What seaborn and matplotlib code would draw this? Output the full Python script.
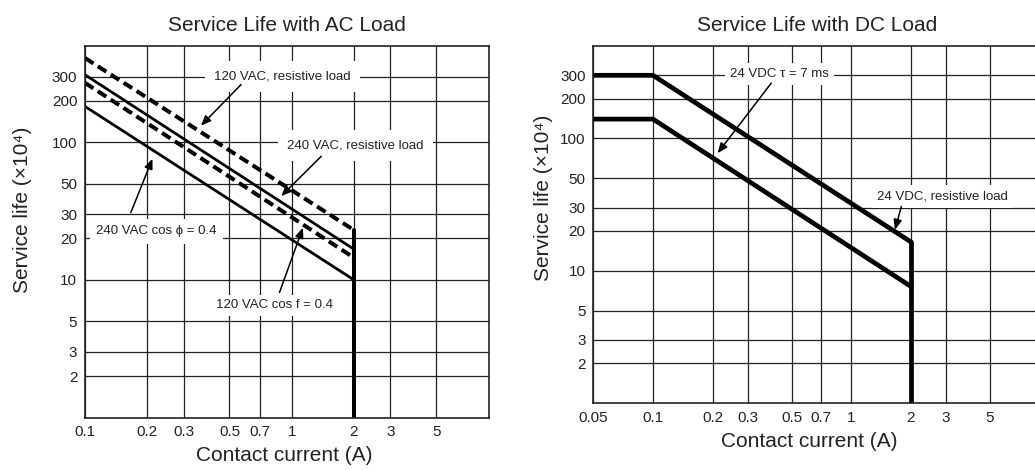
import seaborn as sns
import pandas as pd
import matplotlib
matplotlib.use('Agg')
import matplotlib.pyplot as plt

# values
x_ticks_ac = [0.1, 0.2, 0.3, 0.5, 0.7, 1, 2, 3, 5]
x_ticks_dc = [0.05, 0.1, 0.2, 0.3, 0.5, 0.7, 1, 2, 3, 5]
y_ticks = [2, 3, 5, 10, 20, 30, 50, 100, 200, 300]

ac_current = [0.1, 2]
ac_120_res = [409, 23]
ac_240_res = [309, 16.7]
ac_120_cos = [270, 14.5]
ac_240_cos = [182, 10]
ac_cutoff = [23, 1]

dc_current = [0.05, 0.1, 2]
dc_res = [300, 300, 16.5]
dc_tau = [140, 140, 7.6]
dc_cutoff = [16.5, 1]
cutoff_current = [2, 2]

sns.set_style('white')
plt.rcParams['font.family'] = ['Liberation Sans', 'DejaVu Sans']

fig = plt.figure(figsize=(10.35, 4.7), dpi=100)
ax1 = fig.add_axes([0.0821, 0.1117, 0.3903, 0.7904])
ax2 = fig.add_axes([0.5732, 0.1426, 0.4321, 0.7596])


def setup(ax, xlim, xticks, title):
    ax.set_xscale('log')
    ax.set_yscale('log')
    ax.set_xlim(*xlim)
    ax.set_ylim(1, 500)
    ax.set_xticks(xticks)
    ax.set_xticklabels([f'{t:g}' for t in xticks])
    ax.set_yticks(y_ticks)
    ax.set_yticklabels([str(t) for t in y_ticks])
    ax.minorticks_off()
    ax.tick_params(length=0, labelsize=11, pad=5.5, colors='#222')
    ax.grid(True, color='#222', lw=0.9)
    ax.set_axisbelow(True)
    for s in ax.spines.values():
        s.set_color('#222')
        s.set_linewidth(1.2)
    ax.set_title(title, fontsize=15, pad=11, color='#222')
    ax.set_xlabel('Contact current (A)', fontsize=15, color='#222')
    ax.set_ylabel('Service life (×10⁴)', fontsize=15, color='#222')


def curve(ax, x, y, **kw):
    # estimator=None so the vertical cut-off (same x twice) is kept as a line
    sns.lineplot(x=x, y=y, ax=ax, color='black', estimator=None, sort=False, **kw)


def label(ax, txt, xy, pad=0.5):
    ax.text(xy[0], xy[1], txt, fontsize=9.5, ha='center', va='center', color='#222',
            bbox=dict(boxstyle=f'square,pad={pad}', fc='white', ec='none'), zorder=5)


def arrow(ax, start, tip):
    ax.annotate('', xy=tip, xytext=start, zorder=6,
                arrowprops=dict(arrowstyle='-|>,head_length=0.6,head_width=0.25',
                                color='black', lw=1.1, shrinkA=0, shrinkB=0))


# AC load
setup(ax1, (0.1, 9.0), x_ticks_ac, 'Service Life with AC Load')
dash = (0, (2.5, 1.3))
curve(ax1, ac_current, ac_120_res, lw=2.9, linestyle=dash)
curve(ax1, ac_current, ac_240_res, lw=2.0)
curve(ax1, ac_current, ac_120_cos, lw=2.9, linestyle=dash)
curve(ax1, ac_current, ac_240_cos, lw=2.0)
curve(ax1, cutoff_current, ac_cutoff, lw=2.9)

label(ax1, '120 VAC, resistive load', (0.9, 300), pad=0.7)
arrow(ax1, (0.569, 262), (0.364, 132))
label(ax1, '240 VAC, resistive load', (2.04, 95), pad=0.7)
arrow(ax1, (1.39, 79), (0.89, 40.6))
label(ax1, '240 VAC cos ϕ = 0.4', (0.222, 22.6), pad=0.5)
arrow(ax1, (0.1666, 30.8), (0.212, 75.8))
label(ax1, '120 VAC cos f = 0.4', (0.826, 6.55), pad=0.35)
arrow(ax1, (0.873, 8.1), (1.133, 23.9))

ax1.xaxis.set_label_coords(0.4926, -0.077)
ax1.yaxis.set_label_coords(-0.131, 0.558)

# DC load
setup(ax2, (0.05, 9.0), x_ticks_dc, 'Service Life with DC Load')
curve(ax2, dc_current, dc_res, lw=3.4)
curve(ax2, dc_current, dc_tau, lw=3.4)
curve(ax2, cutoff_current, dc_cutoff, lw=3.4)

label(ax2, '24 VDC τ = 7 ms', (0.435, 307), pad=0.4)
arrow(ax2, (0.395, 262), (0.212, 77.4))
label(ax2, '24 VDC, resistive load', (2.88, 36.4), pad=0.4)
arrow(ax2, (1.79, 30.6), (1.66, 20.4))

ax2.xaxis.set_label_coords(0.482, -0.081)
ax2.yaxis.set_label_coords(-0.09, 0.576)

fig.savefig('out.png', dpi=100)
